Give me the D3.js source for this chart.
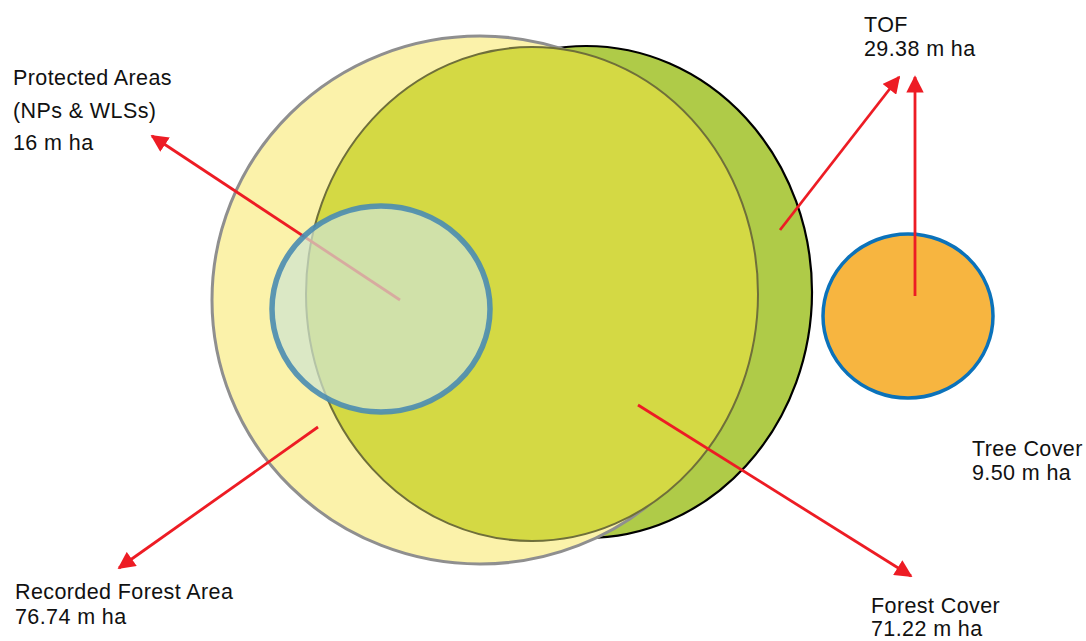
<!DOCTYPE html>
<html>
<head>
<meta charset="utf-8">
<script src="https://cdn.jsdelivr.net/npm/d3@7"></script>
<style>
  body { margin: 0; background: #fff; }
  svg { display: block; }
  text { font-family: "Liberation Sans", Arial, sans-serif; font-size: 21.5px; letter-spacing: 0.4px; fill: #111; }
</style>
</head>
<body>
<svg id="viz" width="1086" height="641"></svg>
<script>
// Data
const categories = ["Recorded Forest Area", "Forest Cover", "Protected Areas", "TOF", "Tree Cover"];
const valuesMha = [76.74, 71.22, 16, 29.38, 9.50];
const labelLines = {
    "Recorded Forest Area": ["Recorded Forest Area", "76.74 m ha"],
    "Forest Cover": ["Forest Cover", "71.22 m ha"],
    "Protected Areas": ["Protected Areas", "(NPs & WLSs)", "16 m ha"],
    "TOF": ["TOF", "29.38 m ha"],
    "Tree Cover": ["Tree Cover", "9.50 m ha"]
};

// Layout (diagram units, mapped through scales)
const shapes = [
    { id: "tof",       cx: 586, cy: 292, rx: 226, ry: 246, fill: "#afcb48", stroke: "#000",    sw: 2.2 },
    { id: "recorded",  cx: 480, cy: 300, rx: 268, ry: 264, fill: "#fbf2aa", stroke: "#8f8f8f", sw: 3 },
    { id: "forest",    cx: 532, cy: 294, rx: 226, ry: 247, fill: "#d4d944", stroke: "#6f6f3a", sw: 2 }
];
const protectedShape = { cx: 381, cy: 309, rx: 109, ry: 103, fill: "#cee3d0", stroke: "#4a8cb0", sw: 5.5, op: 0.72 };
const treeShape = { cx: 908, cy: 316, rx: 85, ry: 82, fill: "#f7b540", stroke: "#0b72ba", sw: 3.5 };

const arrows = [
    { from: [400, 300], to: [152, 136] },
    { from: [318, 427], to: [119, 568] },
    { from: [638, 405], to: [911, 576] },
    { from: [780, 230], to: [899, 77] },
    { from: [915, 296], to: [915, 77] }
];

const labels = [
    { key: "Protected Areas", x: 13, y: 85, dy: 32.5 },
    { key: "TOF", x: 864, y: 32, dy: 24 },
    { key: "Tree Cover", x: 972, y: 456, dy: 24 },
    { key: "Recorded Forest Area", x: 15, y: 599, dy: 25 },
    { key: "Forest Cover", x: 871, y: 613, dy: 23 }
];

const svg = d3.select("#viz");
const width = +svg.attr("width");
const height = +svg.attr("height");
const x = d3.scaleLinear().domain([0, 1086]).range([0, width]);
const y = d3.scaleLinear().domain([0, 641]).range([0, height]);

// Arrowhead marker
const defs = svg.append("defs");
defs.append("marker")
    .attr("id", "head")
    .attr("viewBox", "0 0 10 10")
    .attr("refX", 9).attr("refY", 5)
    .attr("markerWidth", 6.4).attr("markerHeight", 6.2)
    .attr("markerUnits", "strokeWidth")
    .attr("orient", "auto")
    .append("path")
    .attr("d", "M0,0 L10,5 L0,10 Z")
    .attr("fill", "#ed1c24");

// Big overlapping shapes
svg.selectAll("ellipse.big")
    .data(shapes)
    .enter()
    .append("ellipse")
    .attr("class", "big")
    .attr("cx", d => x(d.cx))
    .attr("cy", d => y(d.cy))
    .attr("rx", d => x(d.rx))
    .attr("ry", d => y(d.ry))
    .attr("fill", d => d.fill)
    .attr("stroke", d => d.stroke)
    .attr("stroke-width", d => d.sw);

// Tree cover circle
svg.append("ellipse")
    .attr("cx", x(treeShape.cx)).attr("cy", y(treeShape.cy))
    .attr("rx", x(treeShape.rx)).attr("ry", y(treeShape.ry))
    .attr("fill", treeShape.fill)
    .attr("stroke", treeShape.stroke)
    .attr("stroke-width", treeShape.sw);

// Arrows
svg.selectAll("line.arrow")
    .data(arrows)
    .enter()
    .append("line")
    .attr("class", "arrow")
    .attr("x1", d => x(d.from[0])).attr("y1", d => y(d.from[1]))
    .attr("x2", d => x(d.to[0])).attr("y2", d => y(d.to[1]))
    .attr("stroke", "#ed1c24")
    .attr("stroke-width", 2.8)
    .attr("marker-end", "url(#head)");

// Protected areas, semi-transparent over the first arrow
svg.append("ellipse")
    .attr("cx", x(protectedShape.cx)).attr("cy", y(protectedShape.cy))
    .attr("rx", x(protectedShape.rx)).attr("ry", y(protectedShape.ry))
    .attr("fill", protectedShape.fill)
    .attr("fill-opacity", protectedShape.op)
    .attr("stroke", protectedShape.stroke)
    .attr("stroke-opacity", 0.9)
    .attr("stroke-width", protectedShape.sw);

// Labels
const lab = svg.selectAll("text.lab")
    .data(labels)
    .enter()
    .append("text")
    .attr("class", "lab")
    .attr("x", d => x(d.x))
    .attr("y", d => y(d.y));
lab.selectAll("tspan")
    .data(d => labelLines[d.key].map((t, i) => ({ t, i, d })))
    .enter()
    .append("tspan")
    .attr("x", e => x(e.d.x))
    .attr("y", e => y(e.d.y + e.i * e.d.dy))
    .text(e => e.t);
</script>
</body>
</html>
